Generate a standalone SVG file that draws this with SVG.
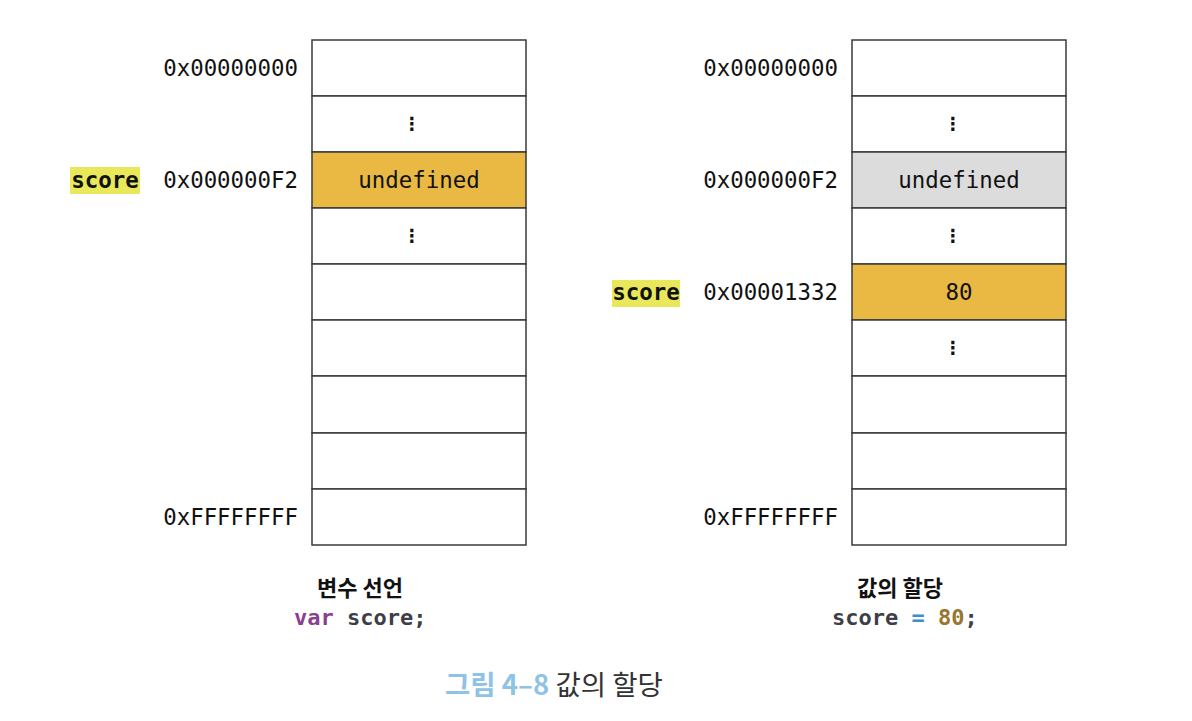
<svg xmlns="http://www.w3.org/2000/svg" width="1192" height="721" viewBox="0 0 1192 721">
<style>
.cell{fill:#ffffff;stroke:#3a3a3a;stroke-width:1.5}
.hot{fill:#e9b944}
.old{fill:#dcdcdc}
.mono{font-family:"DejaVu Sans Mono","Liberation Mono",monospace;font-size:22.4px;fill:#111}
.addr{text-anchor:end}
.mid{text-anchor:middle}
.dots{font-family:"DejaVu Sans",sans-serif;font-size:18px;font-weight:bold;fill:#111;text-anchor:middle}
.var{font-family:"DejaVu Sans Mono","Liberation Mono",monospace;font-size:22.5px;font-weight:bold;fill:#111}
.hl{fill:#e8e85a}
.code{font-family:"DejaVu Sans Mono","Liberation Mono",monospace;font-size:22px;font-weight:bold;fill:#3d3e46}
.kr{font-family:"Noto Sans CJK KR","Noto Sans",sans-serif;font-size:22px;font-weight:bold;fill:#111;text-anchor:middle}
.cap{font-family:"Noto Sans CJK KR","Noto Sans",sans-serif;font-size:27.5px;fill:#333}
</style>
<g id="memory-left">
<rect class="cell" x="312" y="40" width="214" height="56"/>
<rect class="cell" x="312" y="96" width="214" height="56"/>
<rect class="cell hot" x="312" y="152" width="214" height="56"/>
<rect class="cell" x="312" y="208" width="214" height="56"/>
<rect class="cell" x="312" y="264" width="214" height="56"/>
<rect class="cell" x="312" y="320" width="214" height="56"/>
<rect class="cell" x="312" y="376" width="214" height="57"/>
<rect class="cell" x="312" y="433" width="214" height="56"/>
<rect class="cell" x="312" y="489" width="214" height="56"/>
<text class="dots" x="412" y="130">⋮</text>
<text class="dots" x="412" y="242">⋮</text>
<text class="mono mid" x="419" y="188">undefined</text>
<text class="mono addr" x="298" y="76">0x00000000</text>
<text class="mono addr" x="298" y="188">0x000000F2</text>
<text class="mono addr" x="298" y="525">0xFFFFFFFF</text>
</g>
<g id="var-left">
<rect class="hl" x="70" y="167" width="70" height="27"/>
<text class="var" x="105" y="188" text-anchor="middle">score</text>
</g>
<g id="memory-right">
<rect class="cell" x="852" y="40" width="214" height="56"/>
<rect class="cell" x="852" y="96" width="214" height="56"/>
<rect class="cell old" x="852" y="152" width="214" height="56"/>
<rect class="cell" x="852" y="208" width="214" height="56"/>
<rect class="cell hot" x="852" y="264" width="214" height="56"/>
<rect class="cell" x="852" y="320" width="214" height="56"/>
<rect class="cell" x="852" y="376" width="214" height="57"/>
<rect class="cell" x="852" y="433" width="214" height="56"/>
<rect class="cell" x="852" y="489" width="214" height="56"/>
<text class="dots" x="953" y="130">⋮</text>
<text class="dots" x="953" y="242">⋮</text>
<text class="dots" x="953" y="354">⋮</text>
<text class="mono mid" x="959" y="188">undefined</text>
<text class="mono mid" x="959" y="300">80</text>
<text class="mono addr" x="838" y="76">0x00000000</text>
<text class="mono addr" x="838" y="188">0x000000F2</text>
<text class="mono addr" x="838" y="300">0x00001332</text>
<text class="mono addr" x="838" y="525">0xFFFFFFFF</text>
</g>
<g id="var-right">
<rect class="hl" x="612" y="280" width="68" height="27"/>
<text class="var" x="646" y="300" text-anchor="middle">score</text>
</g>
<g id="caption-left">
<text class="kr" x="360" y="596">변수 선언</text>
<text class="code" x="294" y="625"><tspan fill="#8b3f8e">var</tspan> score;</text>
</g>
<g id="caption-right">
<text class="kr" x="900" y="596">값의 할당</text>
<text class="code" x="832" y="625">score <tspan fill="#3c8fc8">=</tspan> <tspan fill="#9a7530">80</tspan>;</text>
</g>
<g id="figure-caption">
<text class="cap" x="445" y="695"><tspan fill="#8fc3e6" font-weight="bold">그림 4–8</tspan> 값의 할당</text>
</g>
<g id="connectors"/>
</svg>
